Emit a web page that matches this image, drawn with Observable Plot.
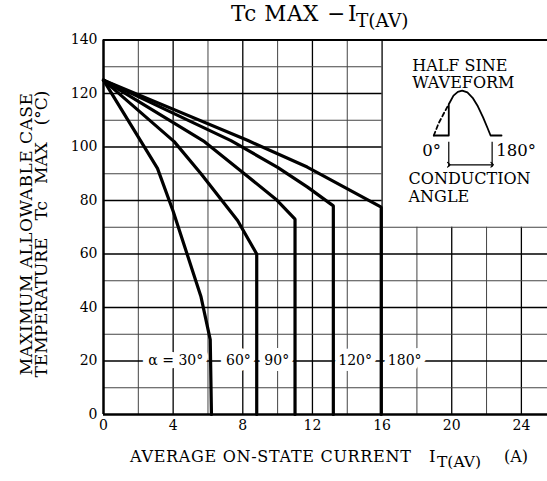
<!DOCTYPE html>
<html><head><meta charset="utf-8">
<script src="https://cdn.jsdelivr.net/npm/d3@7"></script>
<script src="https://cdn.jsdelivr.net/npm/@observablehq/plot@0.6"></script>
<style>
body{margin:0;background:#fff;}
#wrap{position:relative;width:547px;height:481px;overflow:hidden;font-family:"DejaVu Serif",serif;color:#000;}
.ov{position:absolute;white-space:nowrap;line-height:1;}
.just{text-align:justify;text-align-last:justify;white-space:normal;}
</style></head><body><div id="wrap"></div>
<script>
// tick labels and grid
const xTicks = [0,4,8,12,16,20,24];
const yTicks = [0,20,40,60,80,100,120,140];
const xMinor = [2,6,10,14,18,22];
const xMajor = [4,8,12,16,20,24];
const yMinor = [10,30,50,70,90,110,130];
const yMajor = [20,40,60,80,100,120];
const insetCurrent = 16, insetTemp = 70; // corner of the blank inset area

// series: conduction angle α
const angles = ["30°","60°","90°","120°","180°"];
const current30  = [0, 3.1, 4.0, 5.3, 5.6, 6.13, 6.2];
const temp30     = [125, 92, 76, 50, 44, 28, 0];
const current60  = [0, 4.06, 5.6, 7.7, 8.8, 8.8];
const temp60     = [125, 102, 90, 72.5, 60, 0];
const current90  = [0, 5.8, 8.0, 9.9, 11.0, 11.0];
const temp90     = [125, 102, 90.5, 80.5, 73, 0];
const current120 = [0, 7.32, 10, 11.72, 13.2, 13.2];
const temp120    = [125, 102.4, 92.4, 85, 78, 0];
const current180 = [0, 8.3, 11.7, 15.95, 15.95];
const temp180    = [125, 102.4, 92.5, 77.5, 0];

// curve labels
const labelText    = ["α = 30°","60°","90°","120°","180°"];
const labelCurrent = [4.15, 7.75, 9.95, 14.45, 17.3];
const labelTemp    = 20;

// inset: half sine waveform sketch
const waveCurrent = [18.97,19.83,19.83,20.1,20.35,20.6,20.9,21.2,21.5,21.8,22.05,22.23,22.86];
const waveTemp    = [104.3,104.3,116,119.2,120.6,121.1,120.4,118.4,115.2,111.1,107.2,104.3,104.3];
const dashCurrent = [18.97,19.25,19.55,19.83];
const dashTemp    = [104.3,108.9,112.6,116];
const condCurrent = [19.83,22.32];
const condTickTemp = [92.45,101.8];
const condArrowTemp = 93.35;
const insetText    = ["HALF SINE","WAVEFORM","CONDUCTION","ANGLE"];
const insetTextCur = [17.73,17.73,17.52,17.52];
const insetTextTmp = [130.4,123.8,88.0,81.3];
const degText = ["0°","180°"];
const degCur  = [18.84,23.7];
const degTmp  = 98.7;

const seriesList = [[current30,temp30],[current60,temp60],[current90,temp90],[current120,temp120],[current180,temp180]];
const rows = seriesList.flatMap(([cs,ts],k)=>cs.map((c,i)=>({angle:angles[k],current:c,temp:ts[i]})));
const labels = labelText.map((t,i)=>({t,x:labelCurrent[i],y:labelTemp}));
const wave = waveCurrent.map((c,i)=>({x:c,y:waveTemp[i]}));
const dash = dashCurrent.map((c,i)=>({x:c,y:dashTemp[i]}));
const inset = insetText.map((t,i)=>({t,x:insetTextCur[i],y:insetTextTmp[i]}));
const degs = degText.map((t,i)=>({t,x:degCur[i],y:degTmp}));

const vTop = d => d > insetCurrent ? insetTemp : 140;
const hRight = d => d > insetTemp ? insetCurrent : 25.5;

const chart = Plot.plot({
  width:547, height:481,
  marginLeft:103, marginRight:0, marginTop:39.5, marginBottom:67,
  style:{fontFamily:'"DejaVu Serif",serif', fontSize:"14px", background:"white", color:"black"},
  x:{domain:[0,25.5], ticks:xTicks, tickSize:0, tickPadding:6, label:null},
  y:{domain:[0,140], ticks:yTicks, tickSize:0, tickPadding:6, label:null},
  marks:[
    Plot.ruleX(xMinor,{x:d=>d, y1:0, y2:vTop, stroke:"#444", strokeWidth:1}),
    Plot.ruleX(xMajor,{x:d=>d, y1:0, y2:vTop, stroke:"#000", strokeWidth:1.3}),
    Plot.ruleY(yMinor,{y:d=>d, x1:0, x2:hRight, stroke:"#444", strokeWidth:1}),
    Plot.ruleY(yMajor,{y:d=>d, x1:0, x2:hRight, stroke:"#000", strokeWidth:1.3}),
    Plot.ruleY([140],{stroke:"#000", strokeWidth:2}),
    Plot.ruleY([0],{stroke:"#000", strokeWidth:2.5}),
    Plot.ruleX([0],{stroke:"#000", strokeWidth:2.5}),
    Plot.text(labels,{x:"x", y:"y", text:"t", fill:"black", stroke:"white", strokeWidth:12, fontSize:14}),
    Plot.line(rows,{x:"current", y:"temp", z:"angle", stroke:"black", strokeWidth:3.2, strokeLinejoin:"miter"}),
    Plot.line(wave,{x:"x", y:"y", stroke:"black", strokeWidth:1.8}),
    Plot.line(dash,{x:"x", y:"y", stroke:"black", strokeWidth:1.8, strokeDasharray:"4,3"}),
    Plot.ruleX(condCurrent,{x:d=>d, y1:condTickTemp[0], y2:condTickTemp[1], stroke:"black", strokeWidth:1.2}),
    Plot.link([condCurrent],{x1:d=>d[0], x2:d=>d[1], y1:condArrowTemp, y2:condArrowTemp, stroke:"black", strokeWidth:1.2, markerStart:"arrow", markerEnd:"arrow"}),
    Plot.text(inset,{x:"x", y:"y", text:"t", textAnchor:"start", fontSize:16, fill:"black"}),
    Plot.text(degs,{x:"x", y:"y", text:"t", fontSize:16.5, fill:"black"})
  ]
});
const wrap = document.getElementById("wrap");
wrap.appendChild(chart);

function ov(html, x, y, size, extra){
  const d = document.createElement("div");
  d.className = "ov";
  d.innerHTML = html;
  d.style.left = x + "px";
  d.style.top = y + "px";
  d.style.fontSize = size + "px";
  d.style.transform = "translate(0,-50%)";
  if (extra) Object.assign(d.style, extra);
  wrap.appendChild(d);
  return d;
}
// title
ov("Tc MAX", 231, 14, 21.5, {letterSpacing:"0.6px"});
ov("−", 327, 14, 21.5);
ov("I", 348, 14, 21.5);
ov("T(AV)", 356, 21, 18.5);
// x label
ov("AVERAGE ON-STATE CURRENT", 130, 457, 16, {letterSpacing:"0.7px"});
ov("I", 429, 457, 16.5);
ov("T(AV)", 437, 462.5, 15.5);
ov("(A)", 504, 457, 16);
// y label (rotated, two lines)
const yl = document.createElement("div");
yl.className = "ov";
yl.style.left = "34px"; yl.style.top = "234px"; yl.style.fontSize = "17px";
yl.style.lineHeight = "15px"; yl.style.width = "287px";
yl.style.transform = "translate(-50%,-50%) rotate(-90deg)";
yl.innerHTML = '<div style="text-align:center;letter-spacing:0.5px">MAXIMUM ALLOWABLE CASE</div><div class="just">TEMPERATURE Tc MAX (°C)</div>';
yl.style.whiteSpace = "normal";
wrap.appendChild(yl);
</script></body></html>
